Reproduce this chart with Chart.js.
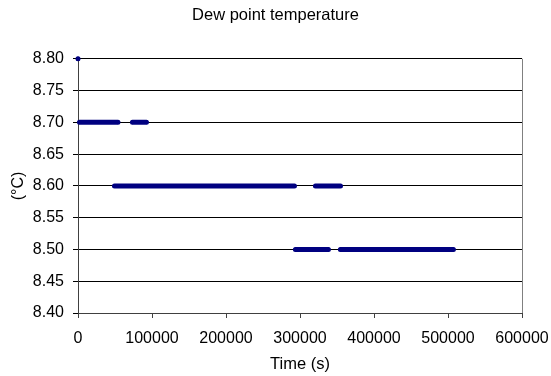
<!DOCTYPE html>
<html>
<head>
<meta charset="utf-8">
<script src="https://cdn.jsdelivr.net/npm/chart.js@4/dist/chart.umd.min.js"></script>
<style>
  html, body { margin: 0; padding: 0; background: #fff; }
</style>
</head>
<body>
<canvas id="dewChart" width="551" height="376"></canvas>
<script>
// Each run of readings at a constant value: start time, end time (s), value (°C)
const runValues = [8.80, 8.70, 8.70, 8.60, 8.60, 8.50, 8.50];
const runStarts = [0, 2000, 73600, 49300, 320900, 293800, 354600];
const runEnds   = [0, 54000, 92500, 292500, 354700, 338400, 507300];

const yTicks = [8.40, 8.45, 8.50, 8.55, 8.60, 8.65, 8.70, 8.75, 8.80];
const xTicks = [0, 100000, 200000, 300000, 400000, 500000, 600000];

// build point list, with a null between runs so the line breaks
const points = [];
runValues.forEach((v, i) => {
    points.push({ x: runStarts[i], y: v });
    points.push({ x: runEnds[i], y: v });
    points.push({ x: runEnds[i], y: null });
});

const FONT = 'Liberation Sans, Arial, sans-serif';

// gray line along the right side of the plot area
const frameRight = {
    id: 'frameRight',
    afterDatasetsDraw(chart) {
        const { ctx, chartArea } = chart;
        ctx.save();
        ctx.strokeStyle = '#808080';
        ctx.lineWidth = 1;
        ctx.beginPath();
        ctx.moveTo(chartArea.right + 0.5, chartArea.top);
        ctx.lineTo(chartArea.right + 0.5, chartArea.bottom);
        ctx.stroke();
        ctx.restore();
    }
};

new Chart(document.getElementById('dewChart').getContext('2d'), {
    type: 'line',
    data: {
        datasets: [{
            data: points,
            borderColor: '#000080',
            backgroundColor: '#000080',
            borderWidth: 5,
            borderCapStyle: 'round',
            pointRadius: 2,
            pointBorderWidth: 0,
            spanGaps: false,
            clip: false,
            tension: 0
        }]
    },
    options: {
        responsive: false,
        animation: false,
        layout: { padding: 0 },
        plugins: {
            legend: { display: false },
            tooltip: { enabled: false },
            title: {
                display: true,
                text: 'Dew point temperature',
                color: '#000',
                font: { family: FONT, size: 16.5, weight: 'normal', lineHeight: 1.2 },
                padding: { top: 6, bottom: 33 }
            }
        },
        scales: {
            x: {
                type: 'linear',
                min: 0,
                max: 600000,
                afterBuildTicks(scale) {
                    scale.ticks = xTicks.map(v => ({ value: v }));
                },
                afterFit(scale) {
                    scale.height = 63;
                    // the space on the right comes from yRight instead
                    scale.paddingLeft = 0;
                    scale.paddingRight = 0;
                },
                ticks: {
                    color: '#000',
                    font: { family: FONT, size: 16 },
                    padding: 11,
                    maxRotation: 0,
                    callback: v => String(v)
                },
                grid: {
                    drawOnChartArea: false,
                    drawTicks: true,
                    tickLength: 5,
                    color: '#404040'
                },
                border: { color: '#404040', width: 1 },
                title: {
                    display: true,
                    text: 'Time (s)',
                    color: '#000',
                    font: { family: FONT, size: 16.5 },
                    padding: { top: 0, bottom: 2 }
                }
            },
            y: {
                min: 8.4,
                max: 8.8,
                afterBuildTicks(scale) {
                    scale.ticks = yTicks.map(v => ({ value: v }));
                },
                afterFit(scale) { scale.width = 78; },
                ticks: {
                    color: '#000',
                    font: { family: FONT, size: 16 },
                    padding: 9,
                    callback: v => Number(v).toFixed(2)
                },
                grid: {
                    color: '#000',
                    lineWidth: 1,
                    tickLength: 5,
                    drawTicks: true
                },
                border: { color: '#404040', width: 1 },
                title: {
                    display: true,
                    text: '(°C)',
                    color: '#000',
                    font: { family: FONT, size: 16 },
                    padding: { top: 9, bottom: 0 }
                }
            },
            // empty axis that only reserves the space on the right
            yRight: {
                position: 'right',
                afterFit(scale) { scale.width = 29; },
                ticks: { display: false },
                grid: { display: false },
                border: { display: false }
            }
        }
    },
    plugins: [frameRight]
});
</script>
</body>
</html>
